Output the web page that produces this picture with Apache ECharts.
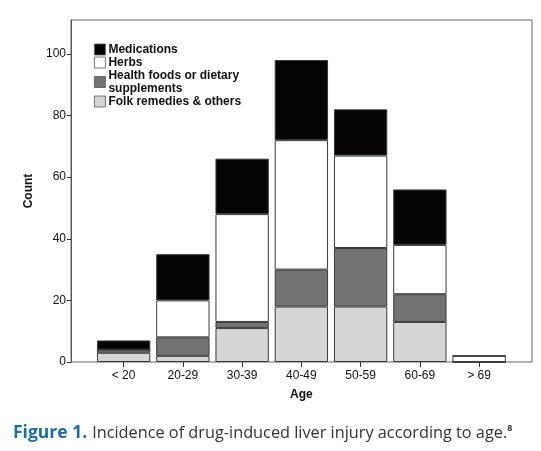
<!DOCTYPE html>
<html><head><meta charset="utf-8">
<script src="https://cdn.jsdelivr.net/npm/echarts@6/dist/echarts.min.js"></script>
<style>html,body{margin:0;padding:0;background:#fff}#c{width:541px;height:451px}</style>
</head><body><div id="c"></div>
<script>
const categories = ['< 20','20-29','30-39','40-49','50-59','60-69','> 69'];
const folk = [3, 2, 11, 18, 18, 13, 0];
const healthFoods = [1, 6, 2, 12, 19, 9, 0];
const herbs = [0, 12, 35, 42, 30, 16, 2];
const medications = [3, 15, 18, 26, 15, 18, 0];
const yTicks = [0, 20, 40, 60, 80, 100];

const chart = echarts.init(document.getElementById('c'));
const font = "'Liberation Sans', Arial, sans-serif";
const cap = "'Open Sans', sans-serif";
const border = {borderColor:'#3a3a3a', borderWidth:1};
function mk(name, data, color){
  return {name, type:'bar', stack:'s', xAxisIndex:1, yAxisIndex:1, data,
    barWidth:'90%', itemStyle:Object.assign({color}, border)};
}
chart.setOption({
  animation:false,
  title:{left:13, top:424, padding:0, text:'{b|Figure 1.} {n|Incidence of drug-induced liver injury according to age.}{s|8}',
    textStyle:{rich:{
      b:{fontFamily:cap, fontWeight:'bold', fontSize:17.5, color:'#1b6fa6'},
      n:{fontFamily:cap, fontSize:16.3, color:'#333', fontWeight:'normal'},
      s:{fontFamily:cap, fontSize:9, color:'#333', verticalAlign:'top', padding:[0,0,8,0]}
    }}},
  legend:{orient:'vertical', left:94, top:43, padding:0, itemWidth:11, itemHeight:11, itemGap:0,
    icon:'rect',
    itemStyle:{borderWidth:0.8, borderColor:'#555'},
    textStyle:{fontFamily:font, fontSize:12, fontWeight:'bold', color:'#111', lineHeight:13, padding:[0,0,0,-2]},
    data:['Medications','Herbs','Health foods or dietary\nsupplements','Folk remedies & others']},
  grid:[
    {left:71, top:20, width:461, height:342, show:true, borderColor:'#666', borderWidth:1, backgroundColor:'#fff'},
    {left:94, top:20, width:414.75, height:342}
  ],
  xAxis:[
    {gridIndex:0, type:'value', min:0, max:1, show:false},
    {gridIndex:1, type:'category', data:categories,
      axisLine:{show:false}, axisTick:{show:true, alignWithLabel:true, length:5, lineStyle:{color:'#333'}},
      axisLabel:{fontFamily:font, fontSize:12, color:'#111', margin:8},
      name:'Age', nameLocation:'middle', nameGap:27,
      nameTextStyle:{fontFamily:font, fontSize:12, fontWeight:'bold', color:'#111'}}
  ],
  yAxis:[
    {gridIndex:0, type:'value', min:0, max:111,
      axisLine:{show:true, lineStyle:{color:'#555'}},
      axisTick:{show:true, length:4, lineStyle:{color:'#333'}, customValues:yTicks},
      splitLine:{show:false},
      axisLabel:{fontFamily:font, fontSize:12, color:'#111', margin:5, customValues:yTicks},
      name:'Count', nameLocation:'middle', nameGap:28,
      nameTextStyle:{fontFamily:font, fontSize:12, fontWeight:'bold', color:'#111'}},
    {gridIndex:1, type:'value', min:0, max:111, show:false}
  ],
  series:[
    mk('Folk remedies & others', folk, '#d6d6d6'),
    mk('Health foods or dietary\nsupplements', healthFoods, '#737373'),
    mk('Herbs', herbs, '#ffffff'),
    mk('Medications', medications, '#050303')
  ]
});
</script></body></html>
